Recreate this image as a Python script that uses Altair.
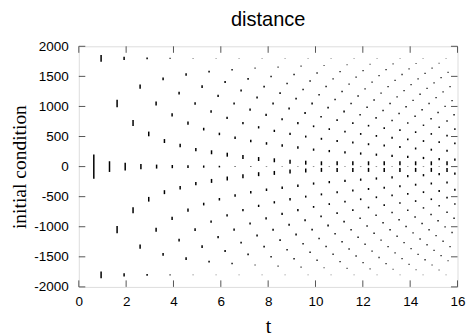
import altair as alt
import pandas as pd

X_TICKS = [0, 2, 4, 6, 8, 10, 12, 14, 16]
Y_TICKS = [-2000, -1500, -1000, -500, 0, 500, 1000, 1500, 2000]
TITLE = ["distance"]

# centre row (initial condition 0)
T_J0 = [0.634, 1.297, 1.960, 2.624, 3.287, 3.950, 4.613, 5.277, 5.940, 6.603, 7.266, 7.930,
        8.593, 9.256, 9.920, 10.583, 11.246, 11.910, 12.573, 13.236, 13.899, 14.563, 15.226, 15.889]
Y_J0 = [0] * 24
D_J0 = [400, 178, 128, 88, 66, 53, 43, 37, 27, 17, 17, 15, 15, 15, 15, 15, 15, 15, 15, 15, 15, 15, 15, 15]

T_J1 = [0.942, 1.618, 2.292, 2.955, 3.618, 4.282, 4.945, 5.608, 6.272, 6.935, 7.598, 8.261,
        8.925, 9.588, 10.251, 10.915, 11.578, 12.241, 12.904, 13.568, 14.231, 14.894, 15.558]
Y_J1 = [1800, 1049, 724, 543, 425, 350, 282, 238, 198, 160, 126, 105, 82, 65, 55, 55, 55, 55, 55, 55, 55, 55, 55]
Y_J1N = [-1800, -1049, -724, -543, -425, -350, -282, -238, -198, -160, -126, -105, -82, -65, -55, -55, -55, -55, -55, -55, -55, -55, -55]
D_J1 = [111, 121, 100, 78, 66, 58, 55, 66, 66, 66, 66, 66, 66, 66, 66, 66, 66, 66, 66, 66, 66, 66, 66]

T_J2 = [1.914, 2.590, 3.266, 3.942, 4.613, 5.277, 5.940, 6.603, 7.266, 7.930, 8.593, 9.256,
        9.920, 10.583, 11.246, 11.910, 12.573, 13.236, 13.899, 14.563, 15.226, 15.889]
Y_J2 = [1800, 1330, 1049, 860, 724, 623, 543, 480, 425, 385, 350, 317, 282, 258, 238, 217, 198, 178, 160, 143, 126, 115]
Y_J2N = [-1800, -1330, -1049, -860, -724, -623, -543, -480, -425, -385, -350, -317, -282, -258, -238, -217, -198, -178, -160, -143, -126, -115]
D_J2 = [55, 71, 66, 55, 55, 45, 42, 42, 42, 42, 42, 42, 37, 37, 37, 37, 37, 37, 37, 37, 37, 37]

T_J3 = [2.886, 3.561, 4.237, 4.913, 5.589, 6.265, 6.935, 7.598, 8.261, 8.925, 9.588, 10.251,
        10.915, 11.578, 12.241, 12.904, 13.568, 14.231, 14.894, 15.558]
Y_J3 = [1800, 1458, 1222, 1049, 916, 810, 724, 653, 594, 543, 499, 462, 425, 399, 372, 350, 327, 301, 281, 264]
Y_J3N = [-1800, -1458, -1222, -1049, -916, -810, -724, -653, -594, -543, -499, -462, -425, -399, -372, -350, -327, -301, -281, -264]
D_J3 = [30, 45, 45, 45, 38, 38, 38, 38, 38, 38, 33, 33, 33, 33, 33, 33, 33, 33, 33, 33]

T_J4 = [3.857, 4.533, 5.209, 5.885, 6.561, 7.236, 7.913, 8.589, 9.256, 9.920, 10.583, 11.246,
        11.910, 12.573, 13.236, 13.899, 14.563, 15.226, 15.889]
Y_J4 = [1800, 1531, 1330, 1174, 1049, 946, 860, 787, 724, 670, 623, 581, 543, 510, 480, 453, 425, 406, 385]
Y_J4N = [-1800, -1531, -1330, -1174, -1049, -946, -860, -787, -724, -670, -623, -581, -543, -510, -480, -453, -425, -406, -385]
D_J4 = [20, 45, 45, 37, 37, 37, 37, 37, 37, 30, 30, 30, 30, 30, 30, 30, 30, 30, 30]

T_J5 = [4.829, 5.504, 6.181, 6.857, 7.532, 8.208, 8.885, 9.560, 10.236, 10.913, 11.578, 12.241,
        12.904, 13.568, 14.231, 14.894, 15.558]
Y_J5 = [1800, 1579, 1405, 1264, 1147, 1049, 966, 893, 829, 774, 724, 680, 641, 605, 573, 543, 516]
Y_J5N = [-1800, -1579, -1405, -1264, -1147, -1049, -966, -893, -829, -774, -724, -680, -641, -605, -573, -543, -516]
D_J5 = [15, 30, 33, 33, 33, 33, 33, 33, 28, 28, 28, 28, 28, 28, 28, 28, 28]

T_J6 = [5.801, 6.476, 7.152, 7.829, 8.504, 9.180, 9.857, 10.532, 11.208, 11.885, 12.560, 13.236,
        13.899, 14.563, 15.226, 15.889]
Y_J6 = [1800, 1612, 1458, 1330, 1222, 1129, 1049, 979, 916, 860, 810, 765, 724, 687, 653, 623]
Y_J6N = [-1800, -1612, -1458, -1330, -1222, -1129, -1049, -979, -916, -860, -810, -765, -724, -687, -653, -623]
D_J6 = [13, 25, 30, 30, 30, 30, 30, 30, 30, 25, 25, 25, 25, 25, 25, 25]

T_J7 = [6.772, 7.448, 8.124, 8.800, 9.476, 10.152, 10.828, 11.504, 12.180, 12.855, 13.532, 14.208, 14.883, 15.558]
Y_J7 = [1800, 1636, 1499, 1383, 1282, 1194, 1117, 1049, 988, 933, 883, 838, 797, 759]
Y_J7N = [-1800, -1636, -1499, -1383, -1282, -1194, -1117, -1049, -988, -933, -883, -838, -797, -759]
D_J7 = [13, 20, 25, 25, 25, 25, 25, 25, 25, 25, 25, 25, 25, 25]

T_J8 = [7.744, 8.420, 9.095, 9.772, 10.448, 11.123, 11.800, 12.476, 13.151, 13.827, 14.504, 15.179, 15.855]
Y_J8 = [1800, 1655, 1531, 1424, 1330, 1248, 1174, 1108, 1049, 996, 946, 901, 860]
Y_J8N = [-1800, -1655, -1531, -1424, -1330, -1248, -1174, -1108, -1049, -996, -946, -901, -860]
D_J8 = [13, 20, 25, 25, 25, 25, 25, 25, 25, 25, 25, 25, 25]

T_J9 = [8.716, 9.391, 10.067, 10.744, 11.420, 12.095, 12.771, 13.448, 14.123, 14.799, 15.476]
Y_J9 = [1800, 1670, 1557, 1458, 1371, 1292, 1222, 1159, 1101, 1049, 1002]
Y_J9N = [-1800, -1670, -1557, -1458, -1371, -1292, -1222, -1159, -1101, -1049, -1002]
D_J9 = [13, 20, 23, 23, 23, 23, 23, 23, 23, 23, 23]

T_J10 = [9.688, 10.363, 11.039, 11.716, 12.391, 13.067, 13.743, 14.419, 15.095, 15.771]
Y_J10 = [1800, 1682, 1579, 1487, 1405, 1330, 1264, 1203, 1147, 1096]
Y_J10N = [-1800, -1682, -1579, -1487, -1405, -1330, -1264, -1203, -1147, -1096]
D_J10 = [13, 18, 23, 23, 23, 23, 23, 23, 23, 23]

T_J11 = [10.659, 11.335, 12.011, 12.686, 13.363, 14.039, 14.714, 15.391]
Y_J11 = [1800, 1692, 1597, 1511, 1434, 1363, 1299, 1241]
Y_J11N = [-1800, -1692, -1597, -1511, -1434, -1363, -1299, -1241]
D_J11 = [13, 18, 22, 22, 22, 22, 22, 22]

T_J12 = [11.631, 12.307, 12.982, 13.658, 14.335, 15.010, 15.686]
Y_J12 = [1800, 1701, 1612, 1531, 1458, 1392, 1330]
Y_J12N = [-1800, -1701, -1612, -1531, -1458, -1392, -1330]
D_J12 = [13, 18, 22, 22, 22, 22, 22]

T_J13 = [12.602, 13.279, 13.954, 14.630, 15.307]
Y_J13 = [1800, 1708, 1625, 1549, 1480]
Y_J13N = [-1800, -1708, -1625, -1549, -1480]
D_J13 = [13, 18, 20, 22, 22]

T_J14 = [13.574, 14.250, 14.926, 15.602]
Y_J14 = [1800, 1714, 1636, 1565]
Y_J14N = [-1800, -1714, -1636, -1565]
D_J14 = [13, 17, 20, 20]

T_J15 = [14.546, 15.222]
Y_J15 = [1800, 1720]
Y_J15N = [-1800, -1720]
D_J15 = [13, 17]

T_J16 = [15.517]
Y_J16 = [1800]
Y_J16N = [-1800]
D_J16 = [13]

ROWS = [
    (T_J0, Y_J0, D_J0),
    (T_J1, Y_J1, D_J1), (T_J1, Y_J1N, D_J1),
    (T_J2, Y_J2, D_J2), (T_J2, Y_J2N, D_J2),
    (T_J3, Y_J3, D_J3), (T_J3, Y_J3N, D_J3),
    (T_J4, Y_J4, D_J4), (T_J4, Y_J4N, D_J4),
    (T_J5, Y_J5, D_J5), (T_J5, Y_J5N, D_J5),
    (T_J6, Y_J6, D_J6), (T_J6, Y_J6N, D_J6),
    (T_J7, Y_J7, D_J7), (T_J7, Y_J7N, D_J7),
    (T_J8, Y_J8, D_J8), (T_J8, Y_J8N, D_J8),
    (T_J9, Y_J9, D_J9), (T_J9, Y_J9N, D_J9),
    (T_J10, Y_J10, D_J10), (T_J10, Y_J10N, D_J10),
    (T_J11, Y_J11, D_J11), (T_J11, Y_J11N, D_J11),
    (T_J12, Y_J12, D_J12), (T_J12, Y_J12N, D_J12),
    (T_J13, Y_J13, D_J13), (T_J13, Y_J13N, D_J13),
    (T_J14, Y_J14, D_J14), (T_J14, Y_J14N, D_J14),
    (T_J15, Y_J15, D_J15), (T_J15, Y_J15N, D_J15),
    (T_J16, Y_J16, D_J16), (T_J16, Y_J16N, D_J16),
]

recs = []
for ts, ys, ds in ROWS:
    for t, y, d in zip(ts, ys, ds):
        recs.append({"t": t, "y": y, "d": d})
df = pd.DataFrame(recs)

W = 378.7
H = 240.6
xs = alt.Scale(domain=[0, 16], nice=False, zero=False)
ys_ = alt.Scale(domain=[-2000, 2000], nice=False, zero=False)
SANS = "Liberation Sans"
SERIF = "Liberation Serif"

X_AXIS = alt.Axis(
    values=X_TICKS, title="t", ticks=False, domain=False, grid=False,
    labelExpr="'' + datum.value", labelFont=SANS, labelFontSize=13.5,
    labelColor="black", labelPadding=8, labelFlush=False,
    titleFont=SERIF, titleFontSize=20, titleFontWeight="normal", titleColor="black",
    titleX=W / 2, titleY=45.4, titleBaseline="alphabetic", titleAlign="center")
Y_AXIS = alt.Axis(
    values=Y_TICKS, title="initial condition", ticks=False, domain=False, grid=False,
    labelExpr="'' + datum.value", labelFont=SANS, labelFontSize=13.5,
    labelColor="black", labelPadding=10.5, labelFlush=False,
    titleFont=SERIF, titleFontSize=19.5, titleFontWeight="normal", titleColor="black",
    titleX=-53.0, titleY=H / 2, titleAngle=270, titleBaseline="alphabetic", titleAlign="center")

points = alt.Chart(df).transform_calculate(
    lo="datum.y - datum.d / 2", hi="datum.y + datum.d / 2"
).mark_rule(color="black", strokeWidth=1.5).encode(
    x=alt.X("t:Q", scale=xs, axis=X_AXIS),
    y=alt.Y("lo:Q", scale=ys_, axis=Y_AXIS),
    y2="hi:Q",
    opacity=alt.Opacity("d:Q", scale=alt.Scale(domain=[13, 27], range=[0.4, 1], clamp=True), legend=None),
)

xt = pd.DataFrame({"v": X_TICKS})
yt = pd.DataFrame({"v": Y_TICKS})
tick_style = dict(color="#555", strokeWidth=1)
bottom = alt.Chart(xt).mark_rule(**tick_style).encode(
    x=alt.X("v:Q", scale=xs, axis=X_AXIS), y=alt.value(H), y2=alt.value(H - 6.5))
top = alt.Chart(xt).mark_rule(**tick_style).encode(
    x=alt.X("v:Q", scale=xs, axis=X_AXIS), y=alt.value(0), y2=alt.value(6.5))
left = alt.Chart(yt).mark_rule(**tick_style).encode(
    y=alt.Y("v:Q", scale=ys_, axis=Y_AXIS), x=alt.value(0), x2=alt.value(6.5))
right = alt.Chart(yt).mark_rule(**tick_style).encode(
    y=alt.Y("v:Q", scale=ys_, axis=Y_AXIS), x=alt.value(W), x2=alt.value(W - 6.5))

title = alt.Chart(pd.DataFrame({"label": TITLE})).mark_text(
    font=SANS, fontSize=20, color="black", align="center", baseline="alphabetic"
).encode(text="label:N", x=alt.value(W / 2), y=alt.value(-19.8))

chart = alt.layer(points, bottom, top, left, right, title).properties(
    width=W, height=H,
    autosize=alt.AutoSizeParams(type="none"),
    padding={"left": 70.8, "top": 38.3, "right": 8, "bottom": 60},
).configure_view(stroke="#222", strokeWidth=1.2).configure(background="white")

chart.save("out.html", embed_options={"renderer": "svg", "actions": False})
